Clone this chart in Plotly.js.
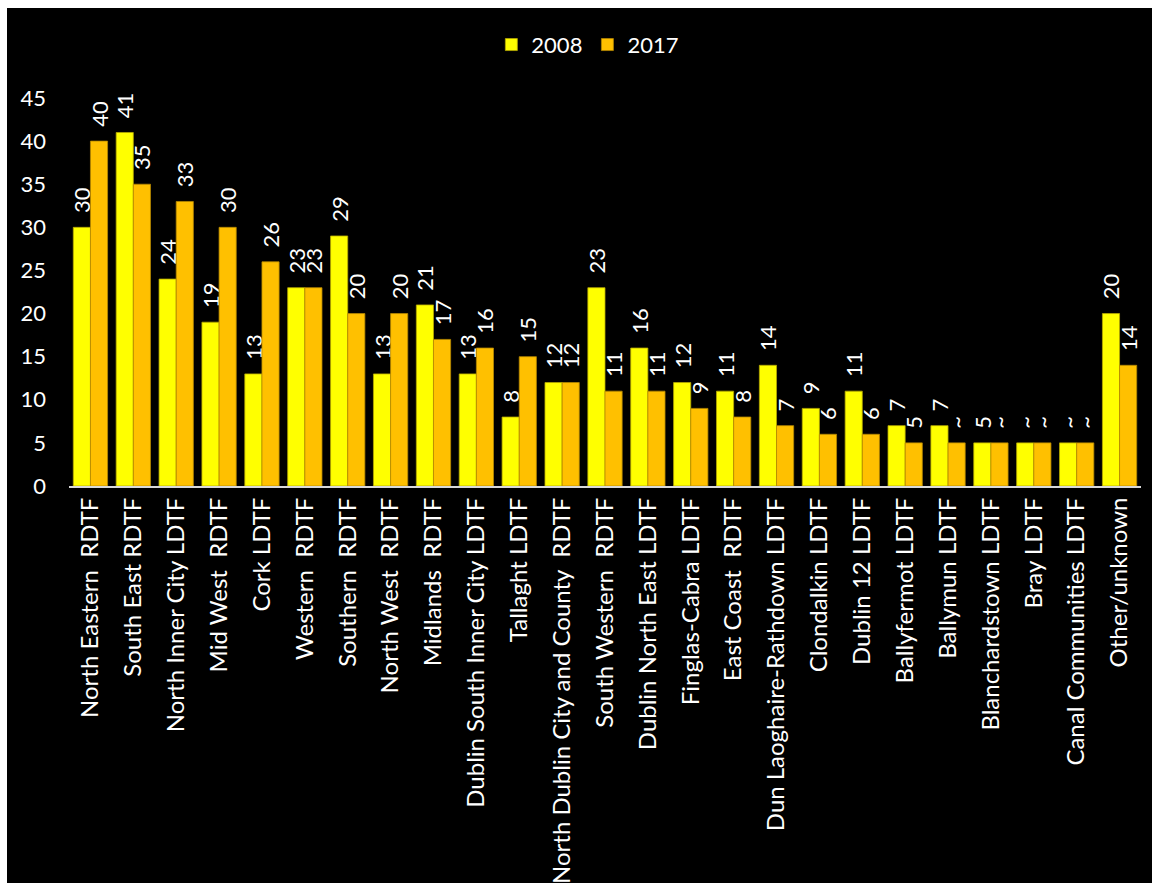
<!DOCTYPE html>
<html>
<head>
<meta charset="utf-8">
<script src="https://cdn.plot.ly/plotly-3.0.1.min.js"></script>
<style>
html,body{margin:0;padding:0;background:#ffffff;width:1152px;height:883px;overflow:hidden;}
#chart{position:absolute;left:7px;top:8px;width:1145px;height:875px;background:#000;}
</style>
</head>
<body>
<div id="chart"></div>
<script>
const categories = [
  "North Eastern\u00a0 RDTF", "South East RDTF", "North Inner City LDTF", "Mid West\u00a0 RDTF",
  "Cork LDTF", "Western\u00a0 RDTF", "Southern\u00a0 RDTF", "North West\u00a0 RDTF",
  "Midlands\u00a0 RDTF", "Dublin South Inner City LDTF", "Tallaght LDTF",
  "North Dublin City and County\u00a0 RDTF", "South Western\u00a0 RDTF", "Dublin North East LDTF",
  "Finglas-Cabra LDTF", "East Coast\u00a0 RDTF", "Dun Laoghaire-Rathdown LDTF", "Clondalkin LDTF",
  "Dublin 12 LDTF", "Ballyfermot LDTF", "Ballymun LDTF", "Blanchardstown LDTF", "Bray LDTF",
  "Canal Communities LDTF", "Other/unknown"
];
const values2008 = [30,41,24,19,13,23,29,13,21,13,8,12,23,16,12,11,14,9,11,7,7,5,5,5,20];
const values2017 = [40,35,33,30,26,23,20,20,17,16,15,12,11,11,9,8,7,6,6,5,5,5,5,5,14];
const labels2008 = ["30","41","24","19","13","23","29","13","21","13","8","12","23","16","12","11","14","9","11","7","7","5","~","~","20"];
const labels2017 = ["40","35","33","30","26","23","20","20","17","16","15","12","11","11","9","8","7","6","6","5","~","~","~","~","14"];
const yTicks = [0,5,10,15,20,25,30,35,40,45];

const FONT = "Lato, 'Open Sans', sans-serif";
const pad = s => "\u00a0\u00a0" + s;

const traces = [
  {
    type: "bar", name: "2008", x: categories, y: values2008,
    text: labels2008.map(pad), textposition: "outside", textangle: -90,
    constraintext: "none",
    textfont: {color: "#ffffff", size: 22, family: FONT},
    cliponaxis: false,
    marker: {color: "#FFFF00", line: {color: "#b5a800", width: 0.8}},
    hoverinfo: "x+y"
  },
  {
    type: "bar", name: "2017", x: categories, y: values2017,
    text: labels2017.map(pad), textposition: "outside", textangle: -90,
    constraintext: "none",
    textfont: {color: "#ffffff", size: 22, family: FONT},
    cliponaxis: false,
    marker: {color: "#FFC000", line: {color: "#b58800", width: 0.8}},
    hoverinfo: "x+y"
  }
];

const layout = {
  width: 1145, height: 875,
  paper_bgcolor: "#000000", plot_bgcolor: "#000000",
  font: {family: FONT, color: "#ffffff", size: 22},
  margin: {l: 62, r: 11, t: 90, b: 397, pad: 0},
  barmode: "group", bargap: 0.2, bargroupgap: 0,
  showlegend: true,
  legend: {
    orientation: "h", x: 0.484, xanchor: "center", y: 0.958, yref: "container", yanchor: "middle",
    font: {size: 22, color: "#ffffff", family: FONT},
    bgcolor: "rgba(0,0,0,0)", itemwidth: 30, traceorder: "normal"
  },
  xaxis: {
    type: "category", tickangle: -90, showgrid: false, zeroline: false,
    showline: true, linecolor: "#d9d9d9", linewidth: 2,
    ticks: "", tickfont: {size: 24, color: "#ffffff", family: FONT},
    automargin: false
  },
  yaxis: {
    range: [0, 45], tickvals: yTicks, ticktext: yTicks.map(String),
    showgrid: false, zeroline: false, showline: false, ticks: "",
    tickfont: {size: 22, color: "#ffffff", family: FONT}, ticklabelstandoff: 22,
    automargin: false
  }
};

Plotly.newPlot("chart", traces, layout, {displayModeBar: false, staticPlot: true});
</script>
</body>
</html>
